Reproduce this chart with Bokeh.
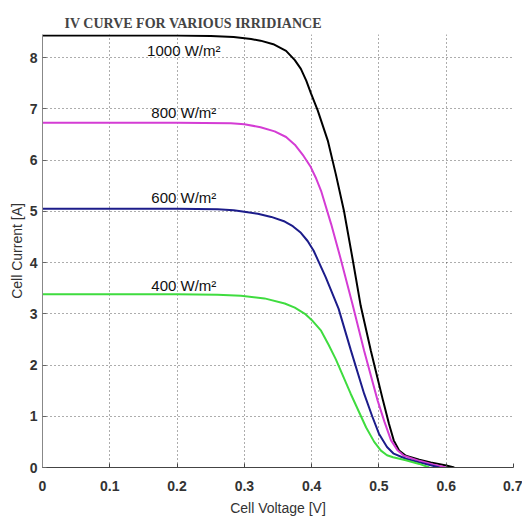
from bokeh.plotting import figure
from bokeh.models import ColumnDataSource, FixedTicker, Range1d
from bokeh.core.properties import value
from bokeh.embed import file_html
from bokeh.resources import INLINE

# Data
v_1000 = [0, 0.1, 0.2, 0.25, 0.284, 0.31, 0.324, 0.343, 0.362, 0.375, 0.384, 0.392, 0.399, 0.409,
          0.424, 0.436, 0.448, 0.461, 0.473, 0.488, 0.506, 0.515, 0.522, 0.530, 0.540, 0.560,
          0.577, 0.600, 0.612]
i_1000 = [8.43, 8.43, 8.43, 8.42, 8.40, 8.36, 8.33, 8.26, 8.13, 7.95, 7.78, 7.55, 7.30, 6.97,
          6.38, 5.72, 5.01, 4.06, 3.15, 2.28, 1.31, 0.85, 0.53, 0.33, 0.23, 0.15,
          0.10, 0.04, 0.0]

v_800 = [0, 0.1, 0.2, 0.28, 0.30, 0.324, 0.345, 0.362, 0.375, 0.388, 0.398, 0.406, 0.414, 0.429,
         0.443, 0.461, 0.478, 0.498, 0.508, 0.518, 0.528, 0.537, 0.56, 0.58, 0.60]
i_800 = [6.73, 6.73, 6.73, 6.72, 6.70, 6.64, 6.56, 6.45, 6.30, 6.08, 5.88, 5.66, 5.40, 4.75,
         4.08, 3.17, 2.28, 1.31, 0.90, 0.53, 0.33, 0.23, 0.13, 0.06, 0.0]

v_600 = [0, 0.1, 0.2, 0.26, 0.284, 0.30, 0.32, 0.34, 0.36, 0.372, 0.384, 0.394, 0.403, 0.421,
         0.440, 0.458, 0.478, 0.490, 0.500, 0.512, 0.522, 0.54, 0.56, 0.59]
i_600 = [5.05, 5.05, 5.05, 5.04, 5.02, 4.99, 4.95, 4.89, 4.80, 4.71, 4.58, 4.42, 4.23, 3.71,
         3.10, 2.30, 1.44, 1.00, 0.66, 0.40, 0.27, 0.17, 0.10, 0.0]

v_400 = [0, 0.1, 0.2, 0.26, 0.295, 0.33, 0.36, 0.375, 0.39, 0.40, 0.414, 0.425, 0.436, 0.458,
         0.481, 0.493, 0.503, 0.512, 0.521, 0.54, 0.56, 0.575]
i_400 = [3.38, 3.38, 3.38, 3.37, 3.35, 3.30, 3.20, 3.12, 3.00, 2.88, 2.67, 2.40, 2.11, 1.44,
         0.78, 0.50, 0.33, 0.24, 0.20, 0.14, 0.07, 0.0]

label_texts = ["1000 W/m²", "800 W/m²", "600 W/m²", "400 W/m²"]
label_v = [0.21, 0.21, 0.21, 0.21]
label_i = [8.14, 6.93, 5.27, 3.55]

x_ticks = [0, 0.1, 0.2, 0.3, 0.4, 0.5, 0.6, 0.7]
y_ticks = [0, 1, 2, 3, 4, 5, 6, 7, 8]

p = figure(width=522, height=519, output_backend="svg", toolbar_location=None,
           x_range=Range1d(0, 0.7), y_range=Range1d(0, 8.45),
           min_border_left=42, min_border_right=9, min_border_top=34, min_border_bottom=52)

p.title.text = "IV CURVE FOR VARIOUS IRRIDIANCE"
p.title.text_font = "Liberation Serif"
p.title.text_font_style = "bold"
p.title.text_font_size = "14px"
p.title.offset = 22
p.title.standoff = 7
p.outline_line_color = None

series = [(v_1000, i_1000, "#000000"), (v_800, i_800, "#d43cd4"),
          (v_600, i_600, "#1c1c8a"), (v_400, i_400, "#3fdc3f")]
for vv, ii, col in series:
    p.line(vv, ii, line_color=col, line_width=2)

src = ColumnDataSource(dict(x=label_v, y=label_i, t=label_texts))
p.text(x="x", y="y", text="t", source=src, text_align="center", text_baseline="middle",
       text_font=value("Liberation Sans"), text_font_size="15px", text_color="#111111")

for ax in (p.xaxis[0], p.yaxis[0]):
    ax.major_tick_in = 4
    ax.major_tick_out = 0
    ax.minor_tick_line_color = None
    ax.major_label_text_font = "Liberation Sans"
    ax.major_label_text_font_style = "bold"
    ax.major_label_text_font_size = "14px"
    ax.major_label_text_color = "#333333"
    ax.axis_label_text_font = "Liberation Sans"
    ax.axis_label_text_font_style = "normal"
    ax.axis_label_text_font_size = "14px"
    ax.axis_label_text_color = "#333333"

p.xaxis.ticker = FixedTicker(ticks=x_ticks)
p.yaxis.ticker = FixedTicker(ticks=y_ticks)
p.xaxis.axis_label = "Cell Voltage [V]"
p.yaxis.axis_label = "Cell Current [A]"
p.xaxis.major_label_standoff = 13
p.yaxis.major_label_standoff = 5
p.xaxis.axis_label_standoff = 6
p.yaxis.axis_label_standoff = 2
p.xaxis.axis_line_color = "#444444"
p.yaxis.axis_line_color = "#888888"
p.xaxis.major_tick_line_color = "#444444"
p.yaxis.major_tick_line_color = "#666666"

p.grid.grid_line_color = "#333333"
p.grid.grid_line_dash = "1 3"
p.grid.grid_line_alpha = 0.8

open("out.html", "w").write(file_html(p, INLINE))
